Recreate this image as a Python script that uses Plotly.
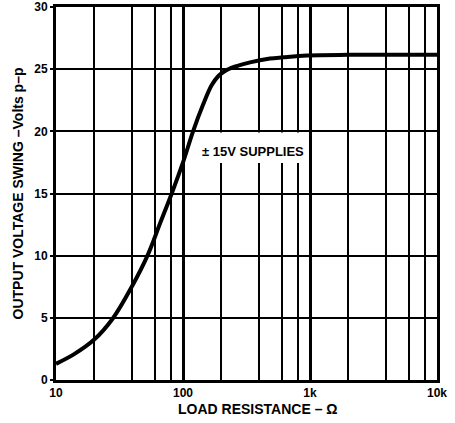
import math
import plotly.graph_objects as go

# Data (load resistance in ohms, output swing in Vp-p)
load_ohms = [10, 14, 20, 28, 40, 52.5, 66, 81.5, 100, 120, 144, 168, 190, 214, 240, 265, 337, 484, 612, 947, 2000, 5000, 10000]
swing_vpp = [1.3, 2.1, 3.25, 4.95, 7.6, 10.0, 12.6, 15.0, 17.5, 20.0, 22.15, 23.7, 24.45, 24.85, 25.1, 25.25, 25.55, 25.85, 25.95, 26.1, 26.15, 26.15, 26.15]

x_major = [10, 100, 1000, 10000]
x_major_text = ["10", "100", "1k", "10k"]
x_minor = [20, 40, 60, 80, 200, 400, 600, 800, 2000, 4000, 6000, 8000]
y_ticks = [0, 5, 10, 15, 20, 25, 30]

label_text = "± 15V SUPPLIES"
label_x, label_y = 356, 18.4
box_x = [122, 860]
box_y = [17.45, 19.9]

x_title = "LOAD RESISTANCE – Ω"
y_title = "OUTPUT VOLTAGE SWING –Volts p–p"

FONT = "Liberation Sans"

fig = go.Figure()
fig.add_trace(go.Scatter(
    x=load_ohms, y=swing_vpp, mode="lines",
    line=dict(color="black", width=4, shape="spline", smoothing=1.0),
    hoverinfo="skip", showlegend=False,
))

fig.add_shape(type="rect", xref="x", yref="y",
              x0=box_x[0], x1=box_x[1], y0=box_y[0], y1=box_y[1],
              fillcolor="white", line=dict(width=0), layer="between")

fig.add_annotation(x=math.log10(label_x), y=label_y, xref="x", yref="y",
                   text="<b>" + label_text + "</b>",
                   showarrow=False, font=dict(family=FONT, size=13, color="black"))

fig.add_annotation(x=0.53, y=-0.078, xref="paper", yref="paper",
                   xanchor="center", yanchor="middle",
                   text="<b>" + x_title + "</b>", showarrow=False,
                   font=dict(family=FONT, size=14, color="black"))

fig.update_xaxes(
    type="log", range=[1, 4], automargin=False,
    tickvals=x_major, ticktext=x_major_text,
    showgrid=True, gridcolor="black", gridwidth=2.5,
    minor=dict(tickvals=x_minor, showgrid=True, gridcolor="black", gridwidth=1.5, ticks=""),
    showline=True, linecolor="black", linewidth=3, mirror=True,
    ticks="", tickfont=dict(family=FONT, size=12, color="black", weight="bold"),
    zeroline=False,
)
fig.update_yaxes(
    range=[0, 30], tickvals=y_ticks, automargin=False,
    showgrid=True, gridcolor="black", gridwidth=2,
    showline=True, linecolor="black", linewidth=3, mirror=True,
    ticks="outside", ticklen=3, tickwidth=2, tickcolor="black",
    tickfont=dict(family=FONT, size=12, color="black", weight="bold"),
    title=dict(text="<b>" + y_title + "</b>", font=dict(family=FONT, size=14, color="black"), standoff=8),
    zeroline=False,
)

fig.update_layout(
    width=455, height=423,
    margin=dict(l=56, r=18, t=7, b=43),
    plot_bgcolor="white", paper_bgcolor="white",
    font=dict(family=FONT, color="black"),
)

fig.write_html("out.html", config={"displayModeBar": False},
               post_script="document.body.style.margin='0px';")
